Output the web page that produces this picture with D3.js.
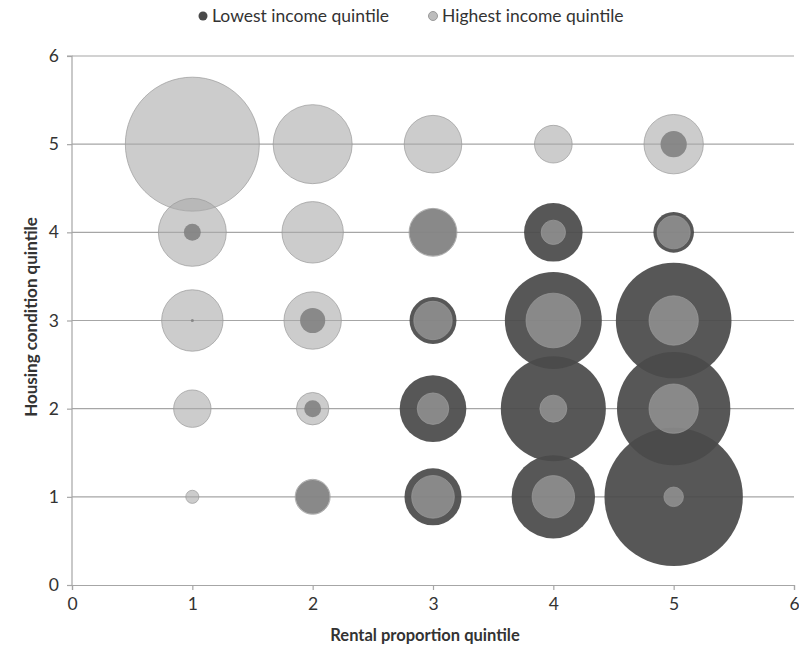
<!DOCTYPE html>
<html>
<head>
<meta charset="utf-8">
<script src="https://cdn.jsdelivr.net/npm/d3@7"></script>
<style>
  html, body { margin: 0; padding: 0; background: #fff; }
  svg { display: block; font-family: Lato, "Open Sans", sans-serif; }
</style>
</head>
<body>
<svg id="chart" width="799" height="651"></svg>
<script>
// Rental proportion quintile (x) and housing condition quintile (y)
const xQuintiles = [1, 2, 3, 4, 5];
const yQuintiles = [5, 4, 3, 2, 1];
const seriesNames = ["Lowest income quintile", "Highest income quintile"];
const xTicks = [0, 1, 2, 3, 4, 5, 6];
const yTicks = [0, 1, 2, 3, 4, 5, 6];

// Bubble sizes, rows = housing condition 5..1, columns = rental quintile 1..5
const lowestIncome = [
  [0,    0,    0,    0,    3.6],
  [1.5,  0,    11.5, 17.9, 8.6],
  [0.05, 3.3,  11.5, 49.1, 69.8],
  [0,    1.5,  23.2, 57.6, 67.1],
  [0,    6.0,  17.0, 36.3, 100]
];
const highestIncome = [
  [93.7, 32.6, 17.3, 7.4,  18.4],
  [24.1, 19.7, 12.0, 3.1,  5.7],
  [19.7, 17.2, 7.7,  15.6, 12.7],
  [7.3,  5.5,  5.2,  3.8,  12.7],
  [0.9,  6.4,  9.5,  9.4,  2.0]
];

const svg = d3.select("#chart");
const x = d3.scaleLinear().domain([0, 6]).range([72, 794]);
const y = d3.scaleLinear().domain([0, 6]).range([585, 56]);
const r = d3.scaleSqrt().domain([0, 100]).range([0, 69.2]);

const gridColor = "#a6a6a6";

// gridlines
svg.append("g").selectAll("line").data(yTicks.filter(d => d > 0)).join("line")
  .attr("x1", x(0)).attr("x2", x(6))
  .attr("y1", d => y(d)).attr("y2", d => y(d))
  .attr("stroke", gridColor).attr("stroke-width", 1.2);

// axes
const yAxis = d3.axisLeft(y).tickValues(yTicks).tickSize(5).tickPadding(8).tickFormat(d3.format("d"));
const xAxis = d3.axisBottom(x).tickValues(xTicks).tickSize(5).tickPadding(8).tickFormat(d3.format("d"));

const gy = svg.append("g").attr("transform", `translate(${x(0)},0)`).call(yAxis);
const gx = svg.append("g").attr("transform", `translate(0,${y(0)})`).call(xAxis);
[gx, gy].forEach(g => {
  g.select(".domain").attr("stroke", gridColor).attr("stroke-width", 1.2);
  g.selectAll(".tick line").attr("stroke", gridColor).attr("stroke-width", 1.2);
  g.selectAll(".tick text").attr("fill", "#333").attr("font-size", 17.5).attr("font-family", "Lato, sans-serif");
});
gy.select(".domain").attr("d", `M-5,${y(6)}H0V${y(0)}`);

// bubble data
function flatten(matrix, series) {
  const out = [];
  matrix.forEach((row, i) => row.forEach((v, j) => {
    if (v > 0) out.push({ x: xQuintiles[j], y: yQuintiles[i], v, series });
  }));
  return out.sort((a, b) => b.v - a.v);
}
const low = flatten(lowestIncome, 0);
const high = flatten(highestIncome, 1);

svg.append("g").selectAll("circle").data(low).join("circle")
  .attr("cx", d => x(d.x)).attr("cy", d => y(d.y)).attr("r", d => r(d.v))
  .attr("fill", "#4a4a4a").attr("fill-opacity", 0.93);

svg.append("g").selectAll("circle").data(high).join("circle")
  .attr("cx", d => x(d.x)).attr("cy", d => y(d.y)).attr("r", d => r(d.v))
  .attr("fill", "#aaaaaa").attr("fill-opacity", 0.6)
  .attr("stroke", "#9a9a9a").attr("stroke-opacity", 0.7).attr("stroke-width", 1);

// axis titles
svg.append("text").attr("x", 425).attr("y", 641)
  .attr("text-anchor", "middle").attr("font-weight", "bold").attr("font-size", 16.5)
  .attr("fill", "#333").text("Rental proportion quintile");
svg.append("text").attr("transform", `translate(37,317) rotate(-90)`)
  .attr("text-anchor", "middle").attr("font-weight", "bold").attr("font-size", 17)
  .attr("fill", "#333").text("Housing condition quintile");

// legend
const legend = svg.append("g");
const legendItems = [
  { name: seriesNames[0], cx: 203, fill: "#4a4a4a" },
  { name: seriesNames[1], cx: 433, fill: "#bdbdbd" }
];
legendItems.forEach(it => {
  legend.append("circle").attr("cx", it.cx).attr("cy", 16).attr("r", 4.5)
    .attr("fill", it.fill).attr("stroke", it.name === seriesNames[1] ? "#9a9a9a" : "none");
  legend.append("text").attr("x", it.cx + 9).attr("y", 22).attr("font-size", 17.5)
    .attr("fill", "#333").text(it.name);
});
</script>
</body>
</html>
